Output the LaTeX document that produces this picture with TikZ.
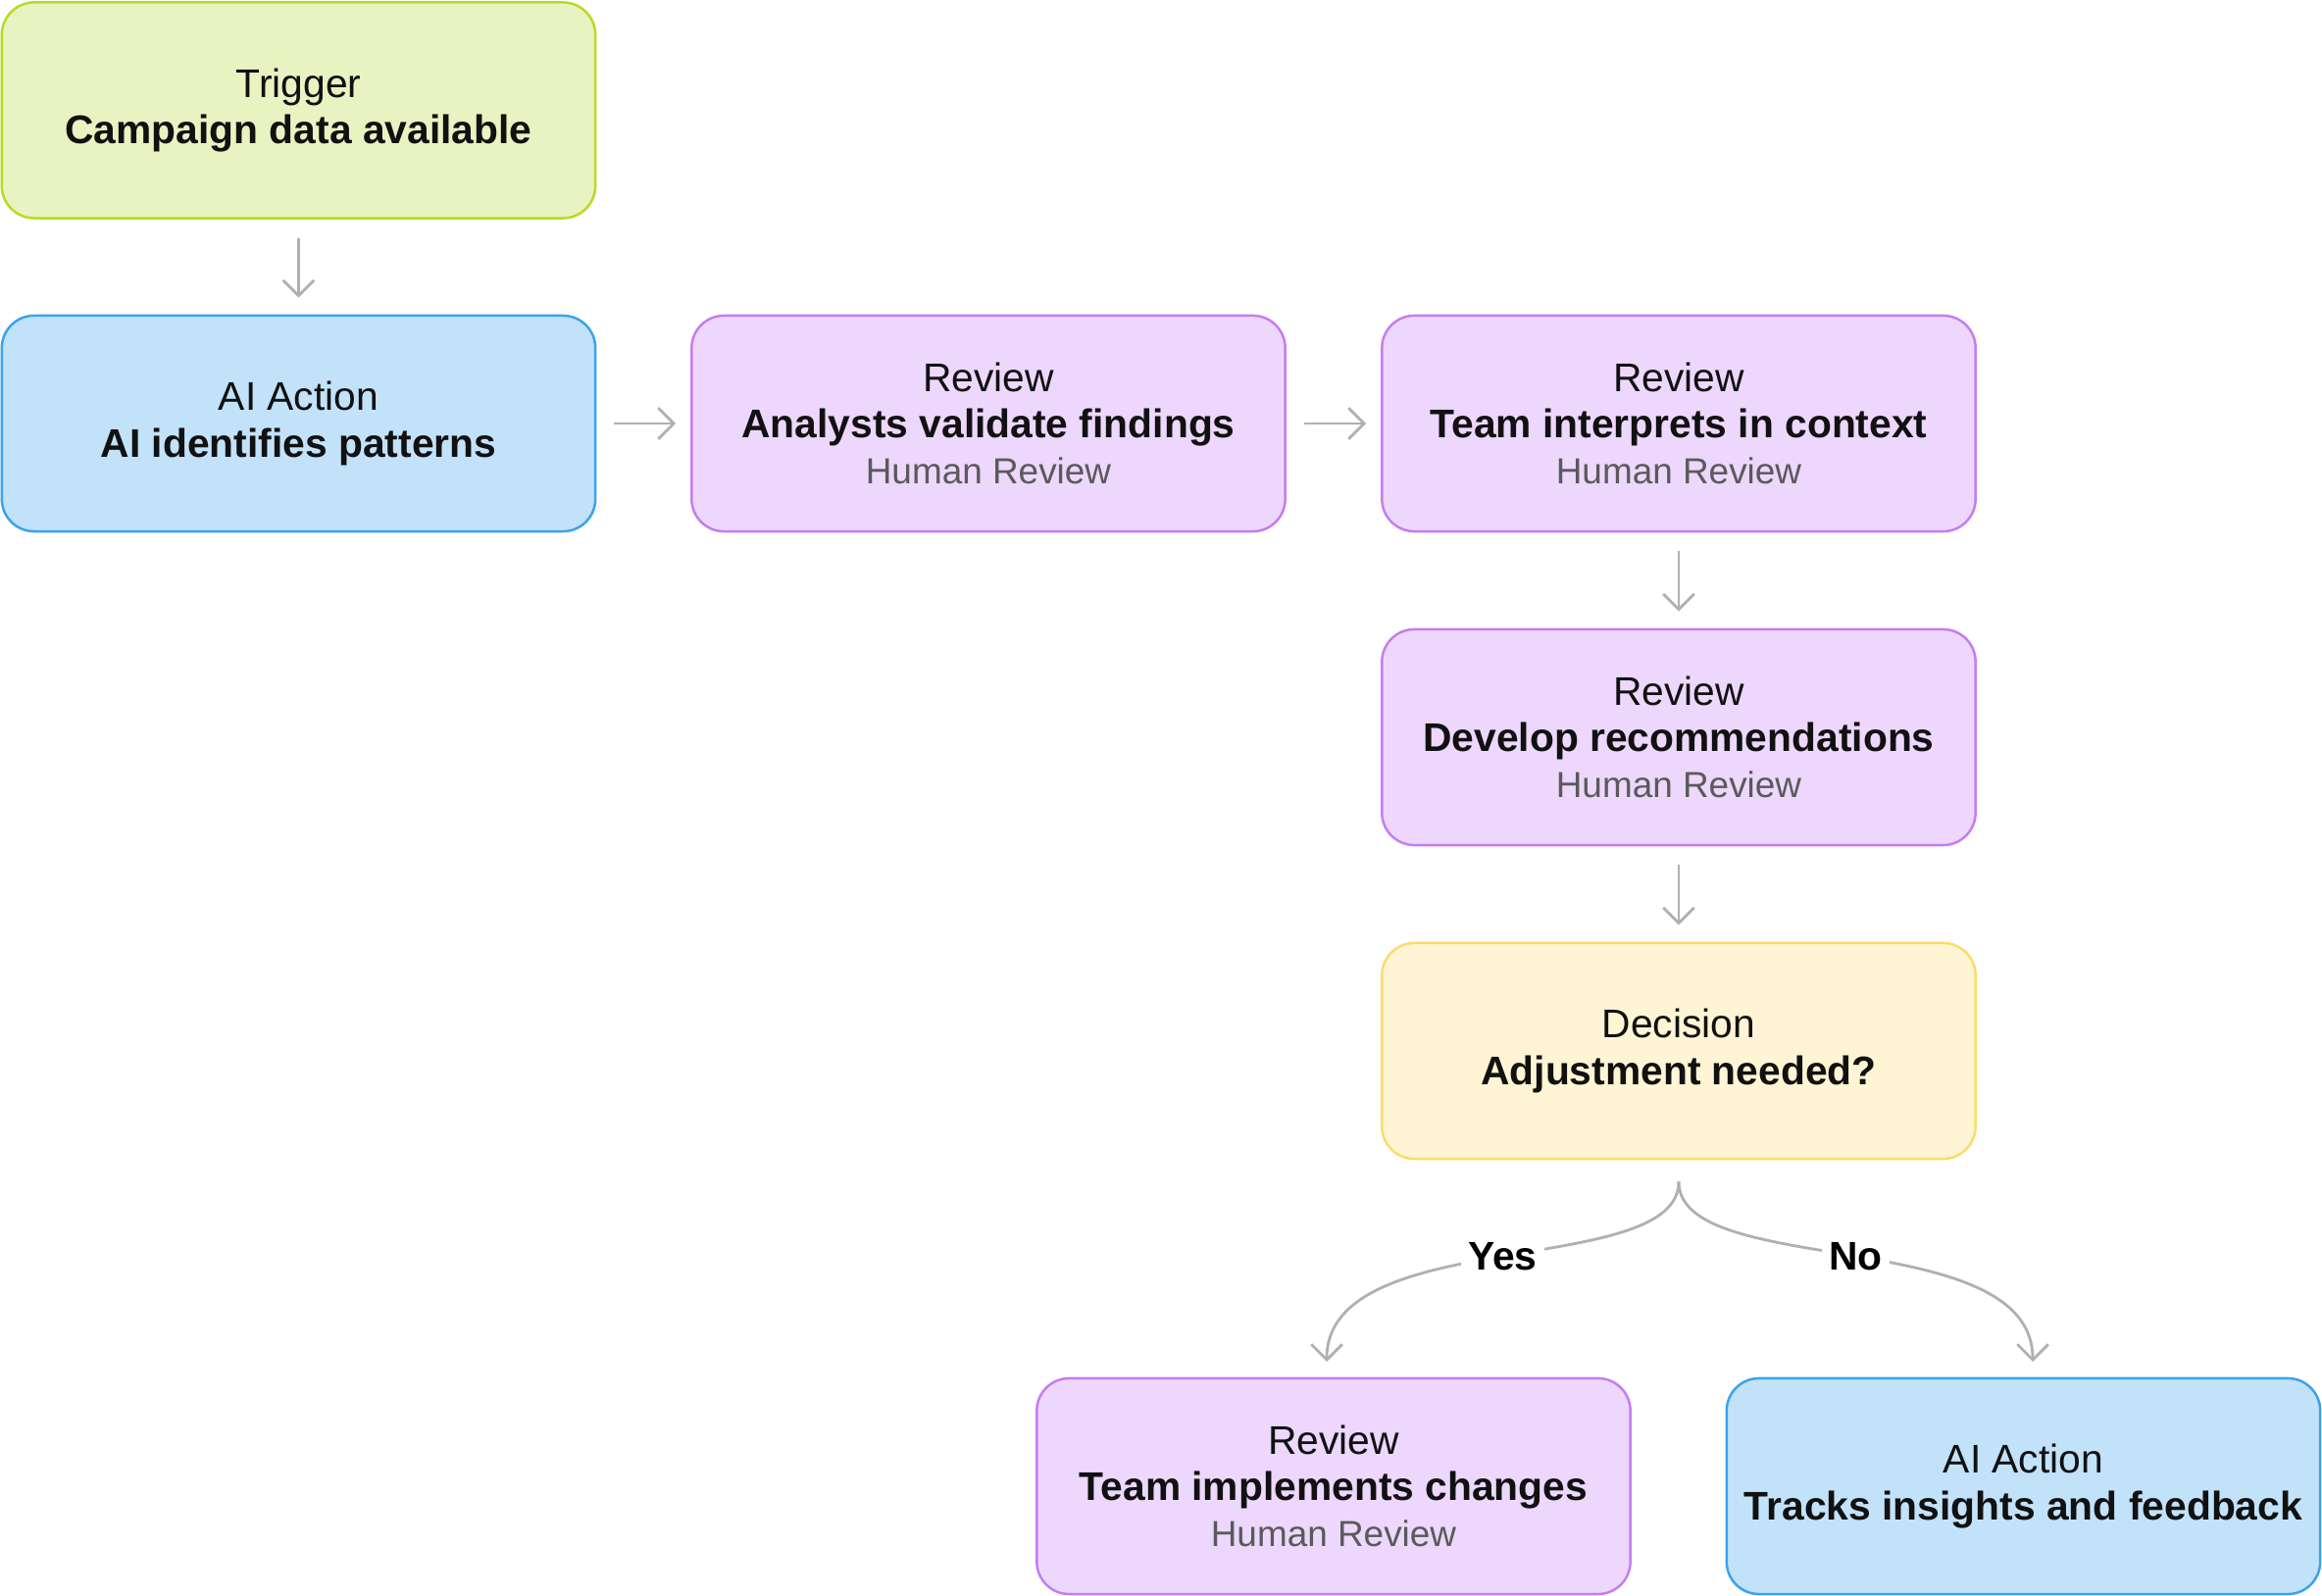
\documentclass[tikz,border=0pt]{standalone}
\usepackage{fontspec}
\setmainfont{Liberation Sans}
\usetikzlibrary{arrows.meta,calc}
\definecolor{trigfill}{HTML}{E9F3C1}
\definecolor{trigline}{HTML}{B8DA22}
\definecolor{aifill}{HTML}{C2E2FA}
\definecolor{ailine}{HTML}{3AA2EE}
\definecolor{revfill}{HTML}{EDD7FD}
\definecolor{revline}{HTML}{C57CF3}
\definecolor{decfill}{HTML}{FFF5D4}
\definecolor{decline}{HTML}{FADC6A}
\definecolor{arrgray}{HTML}{B0B0B0}
\definecolor{txtdark}{HTML}{111111}
\definecolor{txtgray}{HTML}{5A5A5A}
\begin{document}
\begin{tikzpicture}[x=0.01cm,y=-0.01cm,
  box/.style={rounded corners=0.33cm, minimum width=6.05cm, minimum height=2.2cm,
    line width=0.7pt, align=center, text=txtdark,
    font=\fontsize{11.6}{13.4}\selectfont},
  trigbox/.style={box, fill=trigfill, draw=trigline},
  aibox/.style={box, fill=aifill, draw=ailine},
  revbox/.style={box, fill=revfill, draw=revline},
  decbox/.style={box, fill=decfill, draw=decline},
  arr/.style={draw=arrgray, line width=0.8pt, -{Straight Barb[length=4.5pt,width=9pt]}},
  lbl/.style={fill=white, inner sep=2pt, text=black, font=\fontsize{11.6}{13.4}\selectfont\bfseries}
]
\useasboundingbox (0,0) rectangle (2368,1628);
\newcommand{\hr}{{\fontsize{10.5}{13.4}\selectfont\color{txtgray}Human Review}}

\node[trigbox] (trig) at (304.5,112.5) {Trigger\\\textbf{Campaign data available}};
\node[aibox] (ai1) at (304.5,432) {AI Action\\\textbf{AI identifies patterns}};
\node[revbox] (rev1) at (1008,432) {Review\\\textbf{Analysts validate findings}\\\hr};
\node[revbox] (rev2) at (1712,432) {Review\\\textbf{Team interprets in context}\\\hr};
\node[revbox] (rev3) at (1712,752) {Review\\\textbf{Develop recommendations}\\\hr};
\node[decbox] (dec) at (1712,1072) {Decision\\\textbf{Adjustment needed?}};
\node[revbox] (rev4) at (1360,1516) {Review\\\textbf{Team implements changes}\\\hr};
\node[aibox] (ai2) at (2063.5,1516) {AI Action\\\textbf{Tracks insights and feedback}};

\draw[arr] ($(trig.south)+(0,19)$) -- ($(ai1.north)+(0,-17)$);
\draw[arr] ($(ai1.east)+(18,0)$) -- ($(rev1.west)+(-15,0)$);
\draw[arr] ($(rev1.east)+(18,0)$) -- ($(rev2.west)+(-15,0)$);
\draw[arr] ($(rev2.south)+(0,19)$) -- ($(rev3.north)+(0,-17)$);
\draw[arr] ($(rev3.south)+(0,19)$) -- ($(dec.north)+(0,-17)$);

\coordinate (split) at ($(dec.south)+(0,22)$);
\coordinate (yesend) at (1353,1389);
\coordinate (noend) at (2073,1389);
\draw[arr] (split) .. controls ($(split)+(0,100)$) and ($(yesend)+(0,-141)$) .. node[lbl] {Yes} (yesend);
\draw[arr] (split) .. controls ($(split)+(0,100)$) and ($(noend)+(0,-141)$) .. node[lbl] {No} (noend);
\end{tikzpicture}
\end{document}
